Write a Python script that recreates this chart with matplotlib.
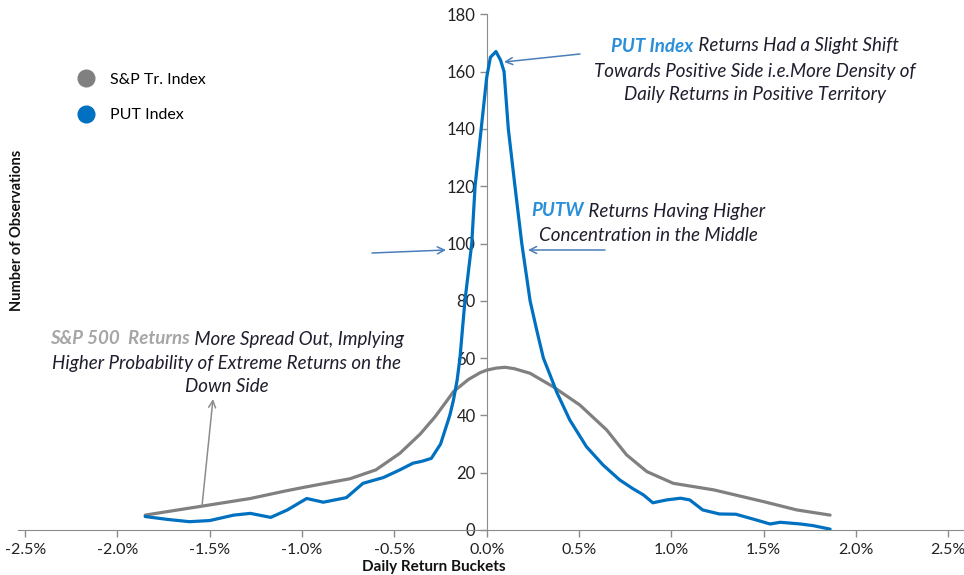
import matplotlib
matplotlib.use('Agg')
import matplotlib.pyplot as plt
from matplotlib.lines import Line2D

# ---------------- data ----------------
sp_returns = [-1.85, -1.535, -1.28, -1.10, -0.99, -0.74, -0.60, -0.47, -0.36, -0.28, -0.217,
              -0.18, -0.10, -0.036, 0.0, 0.05, 0.10, 0.15, 0.235, 0.36, 0.505, 0.65,
              0.758, 0.867, 1.01, 1.23, 1.50, 1.68, 1.86]
sp_counts = [5.2, 8.4, 11.0, 13.5, 14.9, 17.9, 21.0, 26.8, 33.5, 39.5, 45.0,
             48.3, 52.5, 54.9, 55.8, 56.5, 56.8, 56.3, 54.7, 50.0, 43.6, 34.9,
             26.2, 20.4, 16.3, 14.0, 9.9, 7.0, 5.2]

put_returns = [-1.85, -1.73, -1.61, -1.50, -1.37, -1.28, -1.17, -1.08, -0.975, -0.885,
               -0.76, -0.67, -0.56, -0.47, -0.40, -0.35, -0.30, -0.25, -0.22, -0.20,
               -0.18, -0.16, -0.145, -0.118, -0.081, -0.063, -0.03, 0.0, 0.02, 0.05,
               0.075, 0.094, 0.117, 0.153, 0.19, 0.235, 0.27, 0.307, 0.35, 0.38,
               0.45, 0.54, 0.63, 0.72, 0.79, 0.85, 0.90, 0.975, 1.05, 1.10,
               1.17, 1.26, 1.35, 1.46, 1.535, 1.59, 1.70, 1.77, 1.86]
put_counts = [4.7, 3.7, 2.9, 3.3, 5.2, 5.8, 4.4, 7.0, 11.0, 9.7,
              11.3, 16.3, 18.3, 21.0, 23.3, 24.0, 25.0, 30.0, 36.0, 40.0,
              45.4, 52.4, 60.0, 80.0, 100.0, 120.0, 140.0, 158.0, 165.0, 167.0,
              164.0, 160.0, 140.0, 120.0, 100.0, 80.0, 70.0, 60.0, 53.0, 48.0,
              38.4, 29.1, 22.7, 17.5, 14.5, 12.2, 9.5, 10.5, 11.1, 10.5,
              7.0, 5.6, 5.5, 3.5, 2.1, 2.7, 2.1, 1.5, 0.3]

x_ticks = [-2.5, -2.0, -1.5, -1.0, -0.5, 0.0, 0.5, 1.0, 1.5, 2.0, 2.5]
y_ticks = [0, 20, 40, 60, 80, 100, 120, 140, 160, 180]

series_names = ['S&P Tr. Index', 'PUT Index']
x_label = 'Daily Return Buckets'
y_label = 'Number of Observations'

GRAY = '#808080'
BLUE = '#0070c0'
TXT = '#1e1e2e'
FONT = 'Lato'

W, H = 964, 575
fig = plt.figure(figsize=(W / 100, H / 100), dpi=100)
ax = fig.add_axes([17.8 / W, 45 / H, 948.9 / W, 515.7 / H])

ax.plot(sp_returns, sp_counts, color=GRAY, lw=2.3, solid_capstyle='round', zorder=3)
ax.plot(put_returns, put_counts, color=BLUE, lw=2.3, solid_capstyle='round', zorder=4)

ax.set_xlim(-2.54, 2.6)
ax.set_ylim(0, 180)
for s in ['top', 'right']:
    ax.spines[s].set_visible(False)
ax.spines['left'].set_position(('data', 0))
ax.spines['left'].set_color('#8c8c8c')
ax.spines['bottom'].set_color('#8c8c8c')
ax.set_xticks(x_ticks)
ax.set_xticklabels([f'{v:.1f}%' for v in x_ticks], fontfamily=FONT, fontsize=11.5, color='#222222')
ax.set_yticks(y_ticks)
ax.set_yticklabels([str(v) for v in y_ticks], fontfamily=FONT, fontsize=12, color='#222222')
ax.tick_params(axis='both', direction='out', length=5, color='#8c8c8c', width=1)
ax.tick_params(axis='x', pad=4)
ax.tick_params(axis='y', pad=3)

fig.text(434 / W, 1 - 567 / H, x_label, ha='center', va='center', fontfamily=FONT,
         fontweight='bold', fontsize=11, color='#111111')
fig.text(17 / W, 1 - 230 / H, y_label, ha='center', va='center', rotation=90,
         fontfamily=FONT, fontweight='bold', fontsize=10.5, color='#111111')

# legend
handles = [Line2D([], [], marker='o', ms=12, color=GRAY, ls='none'),
           Line2D([], [], marker='o', ms=12, color=BLUE, ls='none')]
fig.legend(handles, series_names, loc='upper left', bbox_to_anchor=(70 / W, 1 - 66 / H),
           bbox_transform=fig.transFigure, frameon=False, handletextpad=0.9,
           labelspacing=1.35, prop={'family': FONT, 'size': 11.5}, borderaxespad=0,
           handlelength=1.2)

# mixed-colour annotation lines
renderer = fig.canvas.get_renderer()


def mixed_line(xc, y, parts, size=13.5):
    objs = []
    for txt, col, wt in parts:
        t = fig.text(0, 1 - y / H, txt, ha='left', va='center', fontfamily=FONT,
                     style='italic', fontweight=wt, fontsize=size, color=col)
        objs.append(t)
    widths = [o.get_window_extent(renderer).width for o in objs]
    total = sum(widths)
    x = xc - total / 2
    for o, w in zip(objs, widths):
        o.set_x(x / W)
        x += w


mixed_line(755, 46, [('PUT Index', '#2a8fd8', 'bold'), (' Returns Had a Slight Shift', TXT, 'normal')])
mixed_line(755, 71, [('Towards Positive Side i.e.More Density of', TXT, 'normal')])
mixed_line(755, 95, [('Daily Returns in Positive Territory', TXT, 'normal')])

mixed_line(648, 211, [('PUTW', '#2a8fd8', 'bold'), (' Returns Having Higher', TXT, 'normal')])
mixed_line(648, 235, [('Concentration in the Middle', TXT, 'normal')])

mixed_line(227, 339, [('S&P 500  Returns', '#a6a6a6', 'bold'), (' More Spread Out, Implying', TXT, 'normal')])
mixed_line(227, 363, [('Higher Probability of Extreme Returns on the', TXT, 'normal')])
mixed_line(227, 387, [('Down Side', TXT, 'normal')])


def arrow(x0, y0, x1, y1, col):
    fig.add_artist(matplotlib.patches.FancyArrowPatch(
        (x0 / W, 1 - y0 / H), (x1 / W, 1 - y1 / H), transform=fig.transFigure,
        arrowstyle='->,head_length=5,head_width=2.5', color=col, lw=1.1,
        mutation_scale=1, shrinkA=0, shrinkB=0))


arrow(580, 54, 504, 62, '#4a7ebb')
arrow(372, 253, 446, 250, '#4a7ebb')
arrow(605, 250, 528, 250, '#4a7ebb')
arrow(202, 506, 213, 399, '#8c8c8c')

fig.savefig('out.png', dpi=100)
